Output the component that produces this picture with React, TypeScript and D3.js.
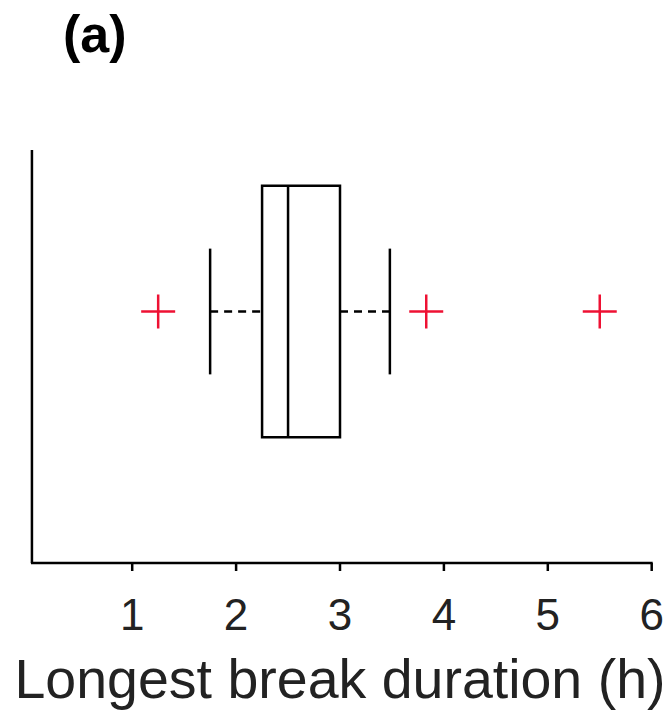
import React from 'react';
import * as d3 from 'd3';

// box statistics (hours)
const boxStats = { whiskerLow: 1.75, q1: 2.25, median: 2.5, q3: 3, whiskerHigh: 3.48 };
const outliers = [1.25, 3.83, 5.5];
const xTicks = [1, 2, 3, 4, 5, 6];
const xLabel = 'Longest break duration (h)';
const panelLabel = '(a)';

const W = 669;
const H = 711;

const App = () => {
  const x = d3.scaleLinear().domain([0, 6]).range([28.3, 651.7]);
  // one horizontal group centred at 1, like matlab boxplot
  const y = d3.scaleLinear().domain([0.5, 1.5]).range([563, 60]);
  const xMin = 0.035;
  const yTop = y.invert(150);
  const cy = y(1);
  const boxTop = y(1.25);
  const boxBot = y(0.75);
  const capTop = y(1.125);
  const capBot = y(0.875);
  const axisY = y(0.5);
  const font = 'Arial, "Liberation Sans", Helvetica, sans-serif';
  const sw = 2.5;

  return (
    <svg width={W} height={H} style={{ position: 'absolute', left: 0, top: 0, background: '#fff' }}>
      <text x={63} y={52} fontFamily={font} fontWeight="bold" fontSize={52} fill="#000">
        {panelLabel}
      </text>

      {/* axes */}
      <line x1={x(xMin)} x2={x(xMin)} y1={y(yTop)} y2={axisY} stroke="#000" strokeWidth={sw} />
      <line x1={x(xMin) - 1} x2={x(6) + 1} y1={axisY} y2={axisY} stroke="#000" strokeWidth={sw} />
      {xTicks.map((t) => (
        <g key={t}>
          <line x1={x(t)} x2={x(t)} y1={axisY} y2={axisY + 8} stroke="#000" strokeWidth={sw} />
          <text x={x(t)} y={630} textAnchor="middle" fontFamily={font} fontSize={44} fill="#222">
            {t}
          </text>
        </g>
      ))}
      <text x={340} y={698} textAnchor="middle" fontFamily={font} fontSize={55.5} fill="#222">
        {xLabel}
      </text>

      {/* whiskers */}
      <line x1={x(boxStats.whiskerLow)} x2={x(boxStats.q1)} y1={cy} y2={cy} stroke="#000" strokeWidth={sw} strokeDasharray="8,6" />
      <line x1={x(boxStats.q3)} x2={x(boxStats.whiskerHigh)} y1={cy} y2={cy} stroke="#000" strokeWidth={sw} strokeDasharray="8,6" />
      <line x1={x(boxStats.whiskerLow)} x2={x(boxStats.whiskerLow)} y1={capTop} y2={capBot} stroke="#000" strokeWidth={sw} />
      <line x1={x(boxStats.whiskerHigh)} x2={x(boxStats.whiskerHigh)} y1={capTop} y2={capBot} stroke="#000" strokeWidth={sw} />

      {/* box */}
      <rect
        x={x(boxStats.q1)}
        y={boxTop}
        width={x(boxStats.q3) - x(boxStats.q1)}
        height={boxBot - boxTop}
        fill="none"
        stroke="#000"
        strokeWidth={sw}
      />
      <line x1={x(boxStats.median)} x2={x(boxStats.median)} y1={boxTop} y2={boxBot} stroke="#000" strokeWidth={sw} />

      {/* outliers */}
      {outliers.map((v, i) => (
        <g key={i} stroke="#ee1133" strokeWidth={sw}>
          <line x1={x(v) - 17} x2={x(v) + 17} y1={cy} y2={cy} />
          <line x1={x(v)} x2={x(v)} y1={cy - 17} y2={cy + 17} />
        </g>
      ))}
    </svg>
  );
};

export default App;
